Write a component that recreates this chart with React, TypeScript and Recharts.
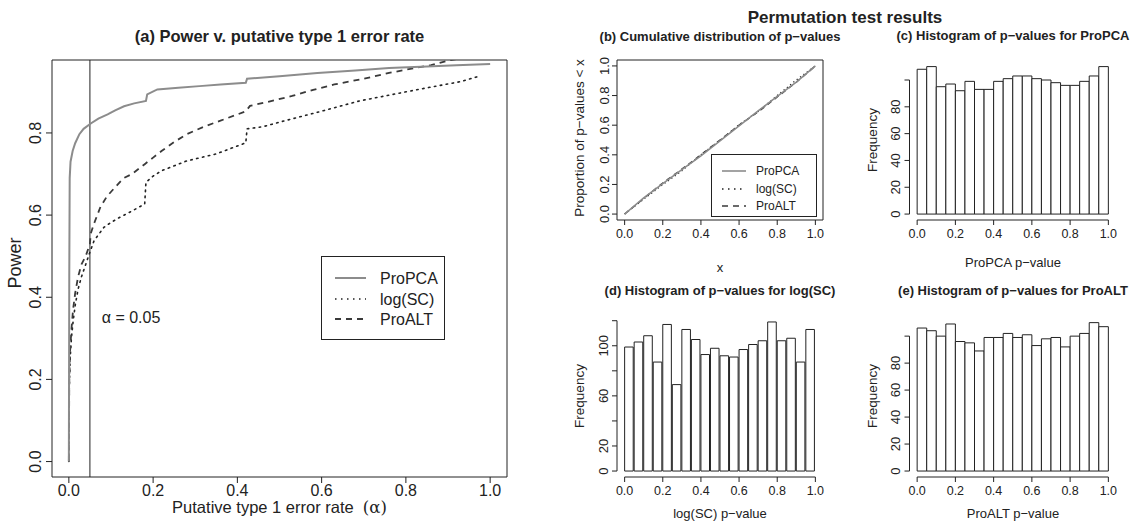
import React from 'react';
import {
  LineChart,
  Line,
  BarChart,
  Bar,
  XAxis,
  YAxis,
  ReferenceLine,
  ReferenceArea,
  Legend,
} from 'recharts';

const FONT = '"Liberation Sans", Arial, Helvetica, sans-serif';
const INK = '#222';

// (a) power against putative type 1 error rate
const proPcaAlpha = [0, 0.001, 0.002, 0.004, 0.009, 0.015, 0.025, 0.035, 0.052, 0.07, 0.092, 0.11, 0.131, 0.155, 0.183, 0.186, 0.21, 0.26, 0.31, 0.36, 0.42, 0.423, 0.5, 0.59, 0.68, 0.76, 0.85, 0.92, 1.0];
const proPcaPower = [0, 0.45, 0.69, 0.73, 0.756, 0.775, 0.797, 0.81, 0.823, 0.835, 0.845, 0.855, 0.865, 0.872, 0.878, 0.894, 0.906, 0.91, 0.914, 0.918, 0.922, 0.932, 0.938, 0.946, 0.952, 0.958, 0.962, 0.965, 0.968];
const logScAlpha = [0, 0.001, 0.003, 0.006, 0.01, 0.015, 0.022, 0.03, 0.04, 0.05, 0.06, 0.083, 0.1, 0.12, 0.15, 0.18, 0.183, 0.2, 0.22, 0.25, 0.28, 0.35, 0.42, 0.423, 0.46, 0.51, 0.6, 0.69, 0.76, 0.83, 0.93, 0.97];
const logScPower = [0, 0.18, 0.25, 0.3, 0.34, 0.38, 0.42, 0.45, 0.48, 0.51, 0.538, 0.57, 0.582, 0.594, 0.61, 0.627, 0.68, 0.695, 0.708, 0.72, 0.732, 0.749, 0.776, 0.81, 0.815, 0.829, 0.853, 0.878, 0.892, 0.906, 0.925, 0.937];
const proAltAlpha = [0, 0.001, 0.003, 0.006, 0.01, 0.015, 0.022, 0.03, 0.04, 0.05, 0.052, 0.06, 0.075, 0.09, 0.11, 0.13, 0.15, 0.17, 0.18, 0.2, 0.22, 0.25, 0.28, 0.32, 0.36, 0.4, 0.42, 0.43, 0.47, 0.53, 0.58, 0.63, 0.7, 0.76, 0.82, 0.86, 0.9, 1.0];
const proAltPower = [0, 0.2, 0.27, 0.32, 0.37, 0.41, 0.45, 0.48, 0.5, 0.53, 0.555, 0.58, 0.62, 0.645, 0.668, 0.69, 0.7, 0.716, 0.724, 0.74, 0.756, 0.778, 0.797, 0.815, 0.83, 0.845, 0.853, 0.866, 0.875, 0.89, 0.905, 0.918, 0.932, 0.946, 0.958, 0.965, 0.976, 0.995];

// (b) cumulative distribution of p-values
const cdfX = [0, 0.1, 0.2, 0.3, 0.4, 0.5, 0.6, 0.7, 0.8, 0.9, 1.0];
const proPcaCdf = [0, 0.109, 0.205, 0.3, 0.393, 0.494, 0.596, 0.697, 0.794, 0.891, 1.0];
const logScCdf = [0, 0.101, 0.199, 0.292, 0.401, 0.497, 0.603, 0.692, 0.8, 0.905, 1.0];
const proAltCdf = [0, 0.105, 0.21, 0.303, 0.4, 0.5, 0.6, 0.69, 0.79, 0.89, 1.0];

// (c)-(e) histograms, bins of width 0.05 (bin centres)
const binMids = [0.025, 0.075, 0.125, 0.175, 0.225, 0.275, 0.325, 0.375, 0.425, 0.475, 0.525, 0.575, 0.625, 0.675, 0.725, 0.775, 0.825, 0.875, 0.925, 0.975];
const proPcaCounts = [108, 110, 95, 97, 92, 99, 93, 93, 99, 101, 103, 103, 101, 100, 98, 96, 96, 99, 103, 110];
const logScCounts = [99, 103, 108, 87, 117, 69, 113, 105, 93, 98, 92, 91, 97, 101, 104, 119, 104, 106, 87, 113];
const proAltCounts = [106, 104, 100, 109, 96, 95, 89, 99, 99, 102, 99, 101, 93, 98, 99, 92, 100, 102, 110, 107];

const unitTicks = [0, 0.2, 0.4, 0.6, 0.8, 1.0];
const powerTicks = [0, 0.2, 0.4, 0.6, 0.8];
const freqTicks = [0, 20, 40, 60, 80, 100];
const freqLabels = [0, 20, 40, 60, 80];
const freqTicksWide = [0, 20, 40, 60, 80, 100, 120];
const freqLabelsWide = [0, 20, 60, 100];

const seriesNames = ['ProPCA', 'log(SC)', 'ProALT'];
const seriesStyle: Record<string, { stroke: string; dash?: string; width: number }> = {
  ProPCA: { stroke: '#8c8c8c', width: 2 },
  'log(SC)': { stroke: '#222', dash: '1.5 4.5', width: 1.6 },
  ProALT: { stroke: '#3a3a3a', dash: '6 5', width: 1.8 },
};

const pts = (xs: number[], ys: number[]) => xs.map((x, i) => ({ x, y: ys[i] }));
const f1 = (v: number) => v.toFixed(1);
const f0 = (v: number) => String(v);

const xTick = (size: number, fmt: (v: number) => string) => (p: any) => (
  <text x={p.x} y={p.y} dy="0.71em" textAnchor="middle" fontSize={size} fontFamily={FONT} fill={INK}>
    {fmt(p.payload.value)}
  </text>
);

const yTick = (size: number, fmt: (v: number) => string, shown?: number[]) => (p: any) => {
  const v = p.payload.value;
  if (shown && !shown.includes(v)) return <g />;
  return (
    <text
      x={p.x}
      y={p.y}
      transform={`rotate(-90 ${p.x} ${p.y})`}
      textAnchor="middle"
      fontSize={size}
      fontFamily={FONT}
      fill={INK}
    >
      {fmt(v)}
    </text>
  );
};

const legendBox = (w: number, h: number, size: number, rows: number[], lx: number[], tx: number, scale = 1) => () => (
  <svg width={w} height={h} style={{ display: 'block' }}>
    <rect x={0.5} y={0.5} width={w - 1} height={h - 1} fill="#fff" stroke={INK} />
    {seriesNames.map((n, i) => {
      const s = seriesStyle[n];
      return (
        <g key={n}>
          <line x1={lx[0]} x2={lx[1]} y1={rows[i]} y2={rows[i]} stroke={s.stroke} strokeWidth={s.width * scale} strokeDasharray={s.dash} />
          <text x={tx} y={rows[i]} dy="0.35em" fontSize={size} fontFamily={FONT} fill={INK}>
            {n}
          </text>
        </g>
      );
    })}
  </svg>
);

function Txt({ x, y, size, bold, rotate, children }: any) {
  return (
    <div
      style={{
        position: 'absolute',
        left: x,
        top: y,
        transform: `translate(-50%, -50%)${rotate ? ' rotate(-90deg)' : ''}`,
        fontSize: size,
        fontWeight: bold ? 700 : 400,
        fontFamily: FONT,
        color: INK,
        whiteSpace: 'nowrap',
        lineHeight: 1,
      }}
    >
      {children}
    </div>
  );
}

function PowerPanel() {
  return (
    <div style={{ position: 'absolute', left: 0, top: 0 }}>
      <LineChart width={560} height={521} margin={{ top: 60, right: 53, bottom: 14, left: 12 }}>
        <XAxis
          type="number"
          dataKey="x"
          domain={[-0.04, 1.04]}
          allowDataOverflow
          ticks={unitTicks}
          interval={0}
          height={30}
          axisLine={false}
          tickLine={{ stroke: INK }}
          tickSize={6}
          tickMargin={2}
          tick={xTick(16, f1)}
        />
        <YAxis
          type="number"
          dataKey="y"
          domain={[-0.0376, 0.9776]}
          allowDataOverflow
          ticks={powerTicks}
          interval={0}
          width={40}
          axisLine={false}
          tickLine={{ stroke: INK }}
          tickSize={6}
          tickMargin={5}
          tick={yTick(16, f1)}
        />
        <ReferenceArea x1={-0.04} x2={1.04} y1={-0.0376} y2={0.9776} fill="none" stroke={INK} ifOverflow="visible" />
        <ReferenceLine x={0.05} stroke={INK} strokeWidth={1} />
        <Line data={pts(logScAlpha, logScPower)} dataKey="y" name="log(SC)" type="linear" dot={false}
          stroke={seriesStyle['log(SC)'].stroke} strokeWidth={1.6} strokeDasharray="1.5 4.5" strokeLinecap="round" isAnimationActive={false} />
        <Line data={pts(proAltAlpha, proAltPower)} dataKey="y" name="ProALT" type="linear" dot={false}
          stroke={seriesStyle.ProALT.stroke} strokeWidth={1.8} strokeDasharray="6 5" isAnimationActive={false} />
        <Line data={pts(proPcaAlpha, proPcaPower)} dataKey="y" name="ProPCA" type="linear" dot={false}
          stroke={seriesStyle.ProPCA.stroke} strokeWidth={2} isAnimationActive={false} />
        <Legend
          layout="horizontal"
          verticalAlign="middle"
          align="center"
          wrapperStyle={{ left: 321, top: 256, width: 124, height: 84 }}
          content={legendBox(124, 84, 16, [22, 43, 63], [14, 45], 59)}
        />
      </LineChart>
    </div>
  );
}

function CdfPanel() {
  return (
    <div style={{ position: 'absolute', left: 560, top: 0 }}>
      <LineChart width={283} height={260} margin={{ top: 60, right: 20, bottom: 10, left: 27 }}>
        <XAxis
          type="number"
          dataKey="x"
          domain={[-0.04, 1.04]}
          allowDataOverflow
          ticks={unitTicks}
          interval={0}
          height={30}
          axisLine={false}
          tickLine={{ stroke: INK }}
          tickSize={5}
          tickMargin={4}
          tick={xTick(12.5, f1)}
        />
        <YAxis
          type="number"
          dataKey="y"
          domain={[-0.04, 1.04]}
          allowDataOverflow
          ticks={unitTicks}
          interval={0}
          width={30}
          axisLine={false}
          tickLine={{ stroke: INK }}
          tickSize={5}
          tickMargin={3}
          tick={yTick(13, f1)}
        />
        <ReferenceArea x1={-0.04} x2={1.04} y1={-0.04} y2={1.04} fill="none" stroke={INK} ifOverflow="visible" />
        <Line data={pts(cdfX, logScCdf)} dataKey="y" name="log(SC)" dot={false} stroke="#222" strokeWidth={1.3}
          strokeDasharray="1.2 3" isAnimationActive={false} />
        <Line data={pts(cdfX, proAltCdf)} dataKey="y" name="ProALT" dot={false} stroke="#3a3a3a" strokeWidth={1.4}
          strokeDasharray="5 4" isAnimationActive={false} />
        <Line data={pts(cdfX, proPcaCdf)} dataKey="y" name="ProPCA" dot={false} stroke="#8c8c8c" strokeWidth={1.6}
          isAnimationActive={false} />
        <Legend
          layout="horizontal"
          verticalAlign="middle"
          align="center"
          wrapperStyle={{ left: 151, top: 154, width: 106, height: 63 }}
          content={legendBox(106, 63, 12, [17, 35, 52], [11, 35], 45, 0.8)}
        />
      </LineChart>
    </div>
  );
}

function HistPanel({ left, top, width, height, margin, counts, yMax, yTop, ticks, labels }: any) {
  const data = binMids.map((m, i) => ({ mid: m, count: counts[i] }));
  const yMin = -0.04 * yMax;
  return (
    <div style={{ position: 'absolute', left, top }}>
      <BarChart width={width} height={height} data={data} margin={margin} barCategoryGap={0} barGap={0} barSize={9.56}>
        <XAxis
          dataKey="mid"
          type="number"
          domain={[-0.04, 1.04]}
          allowDataOverflow
          ticks={unitTicks}
          interval={0}
          height={30}
          axisLine={false}
          tickLine={{ stroke: INK }}
          tickSize={5}
          tickMargin={4}
          tick={xTick(12.5, f1)}
        />
        <YAxis
          type="number"
          domain={[yMin, yMax * 1.04]}
          allowDataOverflow
          ticks={ticks}
          interval={0}
          width={30}
          axisLine={false}
          tickLine={{ stroke: INK }}
          tickSize={5}
          tickMargin={4}
          tick={yTick(13, f0, labels)}
        />
        <Bar dataKey="count" fill="#fff" stroke={INK} strokeWidth={1} isAnimationActive={false} />
        <ReferenceLine segment={[{ x: 0, y: yMin }, { x: 1, y: yMin }]} stroke={INK} ifOverflow="visible" />
        <ReferenceLine segment={[{ x: -0.04, y: 0 }, { x: -0.04, y: yTop }]} stroke={INK} ifOverflow="visible" />
      </BarChart>
    </div>
  );
}

export default function App() {
  return (
    <div style={{ position: 'absolute', left: 0, top: 0, width: 1133, height: 521, background: '#fff', overflow: 'hidden' }}>
      <PowerPanel />
      <CdfPanel />
      <HistPanel left={845} top={0} width={288} height={260} margin={{ top: 60, right: 17, bottom: 10, left: 34.5 }}
        counts={proPcaCounts} yMax={110.5} yTop={100} ticks={freqTicks} labels={freqLabels} />
      <HistPanel left={560} top={260} width={283} height={261} margin={{ top: 56, right: 20, bottom: 14, left: 27 }}
        counts={logScCounts} yMax={119} yTop={120} ticks={freqTicksWide} labels={freqLabelsWide} />
      <HistPanel left={845} top={260} width={288} height={261} margin={{ top: 56, right: 17, bottom: 14, left: 34.5 }}
        counts={proAltCounts} yMax={110.5} yTop={100} ticks={freqTicks} labels={freqLabels} />

      <Txt x={279.5} y={36} size={16.5} bold>(a) Power v. putative type 1 error rate</Txt>
      <Txt x={15} y={263} size={18} rotate>Power</Txt>
      <Txt x={279.5} y={508} size={16.5}>
        Putative type 1 error rate&nbsp;&nbsp;<span style={{ fontFamily: '"DejaVu Serif", "Liberation Serif", serif' }}>(α)</span>
      </Txt>
      <Txt x={131} y={318} size={16}>α = 0.05</Txt>

      <Txt x={845} y={17} size={17} bold>Permutation test results</Txt>

      <Txt x={720} y={36} size={13} bold>(b) Cumulative distribution of p−values</Txt>
      <Txt x={580} y={138} size={13.5} rotate>Proportion of p−values &lt; x</Txt>
      <Txt x={720} y={267} size={13}>x</Txt>

      <Txt x={1013} y={35} size={13} bold>(c) Histogram of p−values for ProPCA</Txt>
      <Txt x={873} y={140} size={13.5} rotate>Frequency</Txt>
      <Txt x={1013} y={262} size={13}>ProPCA p−value</Txt>

      <Txt x={720} y={290} size={13} bold>(d) Histogram of p−values for log(SC)</Txt>
      <Txt x={580} y={396} size={13.5} rotate>Frequency</Txt>
      <Txt x={720} y={513} size={13}>log(SC) p−value</Txt>

      <Txt x={1013} y={290} size={13} bold>(e) Histogram of p−values for ProALT</Txt>
      <Txt x={873} y={396} size={13.5} rotate>Frequency</Txt>
      <Txt x={1013} y={513} size={13}>ProALT p−value</Txt>
    </div>
  );
}
